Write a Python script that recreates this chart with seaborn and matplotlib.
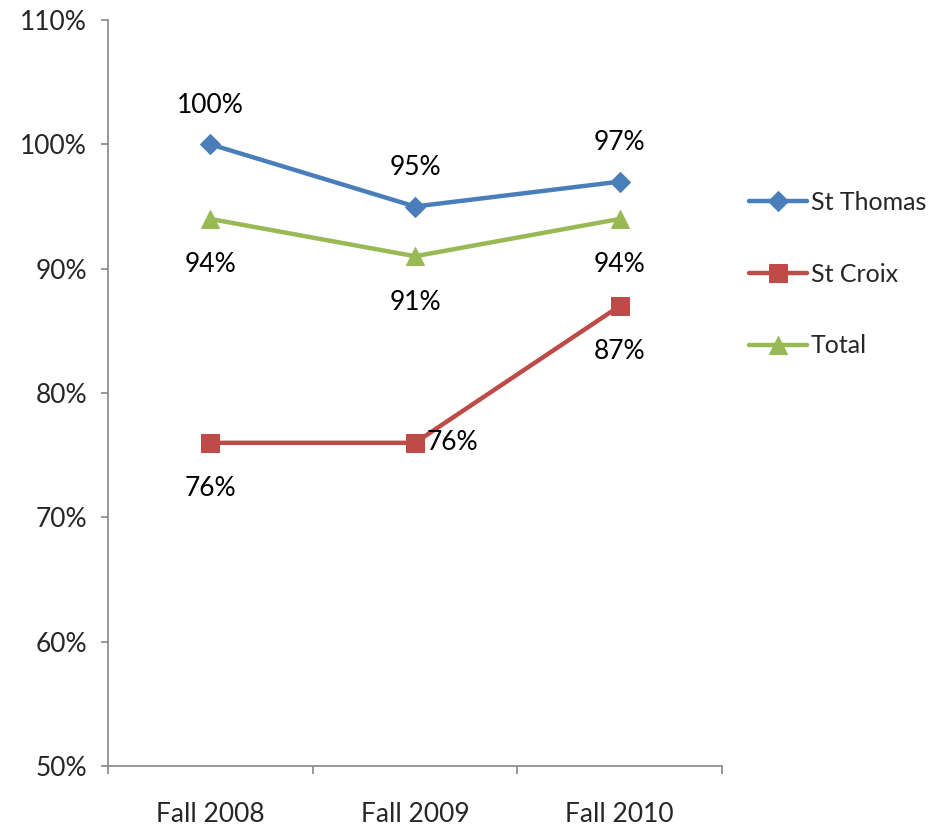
import pandas as pd
import seaborn as sns
import matplotlib.pyplot as plt
from matplotlib.ticker import FixedLocator, PercentFormatter

# ---------- dados ----------
terms = ['Fall 2008', 'Fall 2009', 'Fall 2010']
st_thomas = [100, 95, 97]
st_croix = [76, 76, 87]
total = [94, 91, 94]

series = {'St Thomas': st_thomas, 'St Croix': st_croix, 'Total': total}
df = pd.DataFrame([
    {'term': t, 'campus': name, 'value': v}
    for name, vals in series.items()
    for t, v in zip(terms, vals)
])

colors = {'St Thomas': '#4a7ebb', 'St Croix': '#be4b48', 'Total': '#98b954'}
markers = {'St Thomas': 'D', 'St Croix': 's', 'Total': '^'}
msizes = {'St Thomas': 10, 'St Croix': 13, 'Total': 13}

sns.set_style('white')
plt.rcParams['font.family'] = ['Lato', 'DejaVu Sans']
FS = 19

fig = plt.figure(figsize=(9.39, 8.31), dpi=100)
ax = fig.add_axes([0.115, 0.078, 0.654, 0.898])

# ---------- linhas ----------
for name in series:
    sub = df[df['campus'] == name]
    sns.lineplot(data=sub, x='term', y='value', ax=ax, color=colors[name],
                 marker=markers[name], markersize=msizes[name],
                 markeredgecolor=colors[name], linewidth=3.2,
                 label=name, sort=False)

# ---------- rótulos ----------
label_offsets = {
    'St Thomas': [(0, 28, 'center'), (0, 28, 'center'), (0, 28, 'center')],
    'St Croix': [(0, -33, 'center'), (8, 0, 'left'), (0, -33, 'center')],
    'Total': [(0, -33, 'center'), (0, -33, 'center'), (0, -33, 'center')],
}
for name, vals in series.items():
    for i, v in enumerate(vals):
        dx, dy, ha = label_offsets[name][i]
        ax.annotate(f'{v}%', (i, v), xytext=(dx, dy), textcoords='offset points',
                    ha=ha, va='center', fontsize=FS, color='black')

# ---------- eixos ----------
ax.set_xlim(-0.5, 2.5)
ax.set_ylim(50, 110)
ax.set_yticks(range(50, 111, 10))
ax.yaxis.set_major_formatter(PercentFormatter(decimals=0))
ax.set_xlabel('')
ax.set_ylabel('')
ax.xaxis.set_minor_locator(FixedLocator([-0.5, 0.5, 1.5, 2.5]))
ax.tick_params(axis='x', which='major', length=0, pad=26, labelsize=FS)
ax.tick_params(axis='x', which='minor', length=6, width=1.2, color='#868686', direction='out')
ax.tick_params(axis='y', length=5, width=1.2, color='#868686', direction='out', pad=10, labelsize=FS)
ax.tick_params(axis='both', bottom=True, left=True)
ax.tick_params(axis='x', which='minor', bottom=True)

for side in ['top', 'right']:
    ax.spines[side].set_visible(False)
for side in ['left', 'bottom']:
    ax.spines[side].set_color('#868686')
    ax.spines[side].set_linewidth(1.2)

ax.legend(loc='center left', bbox_to_anchor=(0.798, 0.670), bbox_transform=fig.transFigure,
          frameon=False, fontsize=18, labelspacing=1.95, handlelength=2.3,
          handletextpad=0.15, borderaxespad=0, borderpad=0)

fig.savefig('out.png', dpi=100)
